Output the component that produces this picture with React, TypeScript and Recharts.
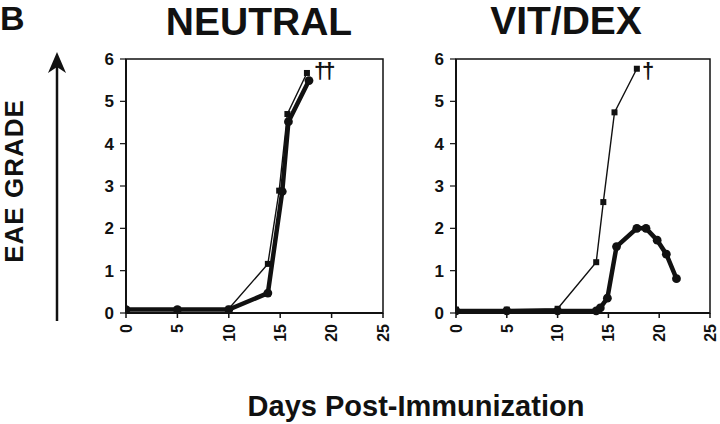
import React from 'react';
import { LineChart, Line, XAxis, YAxis, ReferenceArea } from 'recharts';

// ---- data ----
const xTicks = [0, 5, 10, 15, 20, 25];
const yTicks = [0, 1, 2, 3, 4, 5, 6];

const neutralThinDays = [0, 5, 10, 13.8, 14.9, 15.7, 17.6];
const neutralThinGrade = [0.08, 0.08, 0.1, 1.16, 2.89, 4.7, 5.67];
const neutralThickDays = [0, 5, 10, 13.8, 15.2, 15.8, 17.8];
const neutralThickGrade = [0.08, 0.08, 0.08, 0.47, 2.87, 4.52, 5.49];

const vitThinDays = [0, 5, 10, 13.8, 14.5, 15.6, 17.8];
const vitThinGrade = [0.08, 0.08, 0.1, 1.2, 2.62, 4.74, 5.77];
const vitThickDays = [0, 5, 10, 13.8, 14.2, 14.9, 15.8, 17.8, 18.7, 19.8, 20.7, 21.7];
const vitThickGrade = [0.05, 0.05, 0.05, 0.05, 0.12, 0.35, 1.57, 2.0, 2.0, 1.72, 1.39, 0.81];

const titles = ['NEUTRAL', 'VIT/DEX'];
const daggers = ['††', '†'];
const yLabel = 'EAE GRADE';
const xLabel = 'Days Post-Immunization';
const panelLetter = 'B';

const toRows = (days: number[], grades: number[]) =>
  days.map((d, i) => ({ day: d, grade: grades[i] }));

const FONT = '"Liberation Sans", Arial, Helvetica, sans-serif';
const INK = '#111';

const XTick = (props: any) => {
  const { x, y, payload } = props;
  return (
    <text
      transform={`translate(${x},${y + 4}) rotate(-90)`}
      textAnchor="end"
      dy="0.36em"
      fontFamily={FONT}
      fontWeight="bold"
      fontSize={16}
      fill={INK}
    >
      {payload.value}
    </text>
  );
};

const squareDot = (p: any) => (
  <rect key={`s${p.index}`} x={p.cx - 3} y={p.cy - 3} width={6} height={6} fill={INK} />
);
const circleDot = (p: any) => (
  <circle key={`c${p.index}`} cx={p.cx} cy={p.cy} r={4.4} fill={INK} />
);

type PanelProps = {
  left: number;
  width: number;
  marginLeft: number;
  marginRight: number;
  thin: { day: number; grade: number }[];
  thick: { day: number; grade: number }[];
};

const Panel = ({ left, width, marginLeft, marginRight, thin, thick }: PanelProps) => (
  <div style={{ position: 'absolute', left, top: 0 }}>
    <LineChart
      width={width}
      height={360}
      margin={{ top: 59, right: marginRight, bottom: 7, left: marginLeft }}
    >
      <XAxis
        type="number"
        dataKey="day"
        domain={[0, 25]}
        ticks={xTicks}
        interval={0}
        allowDataOverflow
        height={40}
        tickSize={5}
        axisLine={{ stroke: INK, strokeWidth: 2 }}
        tickLine={{ stroke: INK, strokeWidth: 1.5 }}
        tick={<XTick />}
      />
      <YAxis
        type="number"
        domain={[0, 6]}
        ticks={yTicks}
        interval={0}
        width={40}
        tickSize={6}
        tickMargin={6}
        axisLine={{ stroke: INK, strokeWidth: 2 }}
        tickLine={{ stroke: INK, strokeWidth: 1.2 }}
        tick={{ fill: INK, fontSize: 17, fontWeight: 'bold', fontFamily: FONT }}
      />
      <ReferenceArea x1={0} x2={25} y1={0} y2={6} fill="none" stroke={INK} strokeWidth={1.5} ifOverflow="visible" />
      <Line
        data={thin}
        dataKey="grade"
        type="linear"
        stroke={INK}
        strokeWidth={1.4}
        dot={squareDot}
        isAnimationActive={false}
      />
      <Line
        data={thick}
        dataKey="grade"
        type="linear"
        stroke={INK}
        strokeWidth={4.5}
        dot={circleDot}
        isAnimationActive={false}
      />
    </LineChart>
  </div>
);

export default function App() {
  return (
    <div
      style={{
        position: 'absolute',
        left: 0,
        top: 0,
        width: 720,
        height: 424,
        background: '#fff',
        overflow: 'hidden',
      }}
    >
      <Panel
        left={0}
        width={400}
        marginLeft={86}
        marginRight={17}
        thin={toRows(neutralThinDays, neutralThinGrade)}
        thick={toRows(neutralThickDays, neutralThickGrade)}
      />
      <Panel
        left={330}
        width={390}
        marginLeft={86}
        marginRight={10}
        thin={toRows(vitThinDays, vitThinGrade)}
        thick={toRows(vitThickDays, vitThickGrade)}
      />
      <svg
        width={720}
        height={424}
        style={{ position: 'absolute', left: 0, top: 0, pointerEvents: 'none' }}
      >
        <text x={0} y={30} fontFamily={FONT} fontWeight="bold" fontSize={34} fill={INK}>
          {panelLetter}
        </text>
        <text x={259} y={35} textAnchor="middle" fontFamily={FONT} fontWeight="bold" fontSize={39} fill={INK}>
          {titles[0]}
        </text>
        <text x={566} y={34} textAnchor="middle" fontFamily={FONT} fontWeight="bold" fontSize={39} fill={INK}>
          {titles[1]}
        </text>
        <text x={314} y={78} fontFamily={FONT} fontWeight="bold" fontSize={22} letterSpacing={-3} fill={INK}>
          {daggers[0]}
        </text>
        <text x={642} y={78} fontFamily={FONT} fontWeight="bold" fontSize={22} fill={INK}>
          {daggers[1]}
        </text>
        <text
          transform="translate(23,181) rotate(-90)"
          textAnchor="middle"
          fontFamily={FONT}
          fontWeight="bold"
          fontSize={26}
          letterSpacing={1}
          fill={INK}
        >
          {yLabel}
        </text>
        <line x1={57} y1={66} x2={57} y2={321} stroke={INK} strokeWidth={2.5} />
        <path d="M57,52 L48,73 L57,67 L66,73 Z" fill={INK} />
        <text x={416} y={416} textAnchor="middle" fontFamily={FONT} fontWeight="bold" fontSize={29} fill={INK}>
          {xLabel}
        </text>
      </svg>
    </div>
  );
}
